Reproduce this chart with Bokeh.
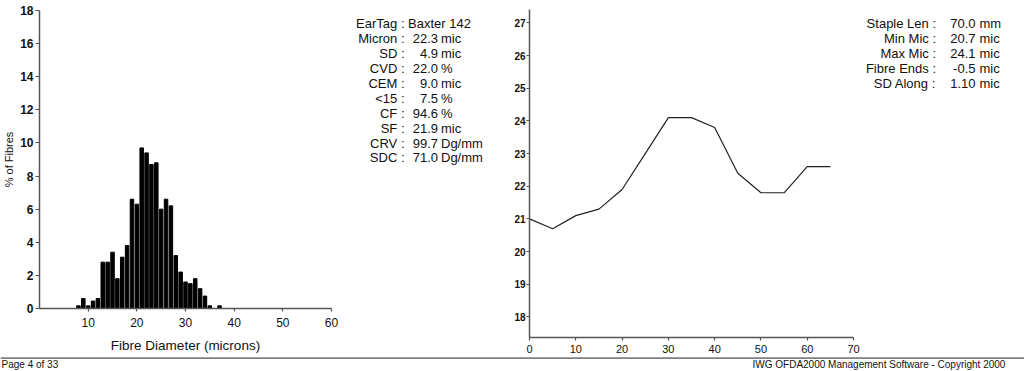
from bokeh.plotting import figure
from bokeh.models import Range1d, FixedTicker, Span
from bokeh.layouts import row, column
from bokeh.embed import file_html
from bokeh.resources import INLINE
from bokeh.core.properties import value

FONT = "Liberation Sans"

# ---------------- data ----------------
diam_microns = list(range(8, 38))
pct_fibres = [0.16, 0.6, 0.16, 0.45, 0.6, 2.8, 2.8, 3.4, 1.8, 3.1,
              3.8, 6.6, 6.3, 9.7, 9.4, 8.7, 8.8, 6.0, 6.6, 6.2,
              3.2, 2.2, 1.6, 1.5, 1.8, 1.2, 0.75, 0.16, 0.0, 0.16]
hist_xticks = [10, 20, 30, 40, 50, 60]
hist_yticks = [0, 2, 4, 6, 8, 10, 12, 14, 16, 18]

along_pos = [0, 5, 10, 15, 20, 25, 30, 35, 40, 45, 50, 55, 60, 65]
along_mic = [21.0, 20.7, 21.1, 21.3, 21.9, 23.0, 24.1, 24.1, 23.8, 22.4,
             21.8, 21.8, 22.6, 22.6]
prof_xticks = [0, 10, 20, 30, 40, 50, 60, 70]
prof_yticks = [18, 19, 20, 21, 22, 23, 24, 25, 26, 27]

stats_labels = ["EarTag :", "Micron :", "SD :", "CVD :", "CEM :", "<15 :",
                "CF :", "SF :", "CRV :", "SDC :"]
ear_tag = "Baxter 142"
stats_values = ["", "22.3", "4.9", "22.0", "9.0", "7.5", "94.6", "21.9",
                "99.7", "71.0"]
stats_units = ["", "mic", "mic", " %", "mic", " %", " %", "mic", "Dg/mm",
               "Dg/mm"]

staple_labels = ["Staple Len :", "Min Mic :", "Max Mic :", "Fibre Ends :",
                 "SD Along :"]
staple_values = ["70.0", "20.7", "24.1", "-0.5", "1.10"]
staple_units = ["mm", "mic", "mic", "mic", "mic"]

page_label = "Page 4 of 33"
footer_text = "IWG OFDA2000 Management Software - Copyright 2000"

AXIS_COLOR = "#555555"
TEXT_COLOR = "#111111"


def style_axes(p):
    p.xgrid.visible = False
    p.ygrid.visible = False
    p.outline_line_color = None
    for ax in (p.xaxis[0], p.yaxis[0]):
        ax.axis_line_color = AXIS_COLOR
        ax.axis_line_width = 1.5
        ax.major_tick_line_color = AXIS_COLOR
        ax.major_tick_line_width = 1.2
        ax.minor_tick_line_color = None
        ax.major_tick_in = 0
        ax.major_label_text_font = FONT
        ax.major_label_text_color = TEXT_COLOR
        ax.axis_label_text_font = FONT
        ax.axis_label_text_font_style = "normal"
        ax.axis_label_text_color = TEXT_COLOR


def blank(p):
    p.xgrid.visible = False
    p.ygrid.visible = False
    p.outline_line_color = None


# ---------------- histogram ----------------
pA = figure(width=340, height=356, x_range=Range1d(0, 60), y_range=Range1d(0, 18),
            output_backend="svg", toolbar_location=None,
            min_border_left=37, min_border_right=9, min_border_top=10,
            min_border_bottom=48)
pA.vbar(x=diam_microns, top=pct_fibres, width=0.72, color="black")
style_axes(pA)
pA.xaxis.ticker = FixedTicker(ticks=hist_xticks)
pA.yaxis.ticker = FixedTicker(ticks=hist_yticks)
pA.xaxis.bounds = (0, 60)
pA.xaxis.major_tick_out = 3
pA.yaxis.major_tick_out = 4
pA.xaxis.major_label_standoff = 6
pA.yaxis.major_label_standoff = 2
pA.xaxis.major_label_text_font_size = "12px"
pA.yaxis.major_label_text_font_size = "12px"
pA.yaxis.major_label_text_font_style = "bold"
pA.xaxis.axis_label = "Fibre Diameter (microns)"
pA.xaxis.axis_label_text_font_size = "13.5px"
pA.xaxis.axis_label_standoff = 8
pA.yaxis.axis_label = "% of Fibres"
pA.yaxis.axis_label_text_font_size = "11px"
pA.yaxis.axis_label_standoff = 2

# ---------------- stats text block ----------------
pT = figure(width=165, height=356, x_range=Range1d(340, 505), y_range=Range1d(356, 0),
            output_backend="svg", toolbar_location=None, min_border=0,
            x_axis_location=None, y_axis_location=None)
blank(pT)
rows_y = [23.3 + i * 14.9 for i in range(len(stats_labels))]
txt = dict(text_font=value(FONT), text_font_size="13px", text_color=TEXT_COLOR,
           text_baseline="alphabetic")
pT.text(x=[404] * len(stats_labels), y=rows_y, text=stats_labels, text_align="right", **txt)
pT.text(x=[407.5], y=[rows_y[0]], text=[ear_tag], text_align="left", **txt)
pT.text(x=[437.5] * (len(stats_values) - 1), y=rows_y[1:], text=stats_values[1:],
        text_align="right", **txt)
pT.text(x=[440.5] * (len(stats_units) - 1), y=rows_y[1:], text=stats_units[1:],
        text_align="left", **txt)

# ---------------- profile along staple ----------------
pB = figure(width=519, height=356, x_range=Range1d(0, 106.93), y_range=Range1d(17.37, 27.41),
            output_backend="svg", toolbar_location=None,
            min_border_left=24, min_border_right=0, min_border_top=9,
            min_border_bottom=19)
pB.line(along_pos, along_mic, line_color="#222222", line_width=1.2)
style_axes(pB)
pB.xaxis.ticker = FixedTicker(ticks=prof_xticks)
pB.yaxis.ticker = FixedTicker(ticks=prof_yticks)
pB.xaxis.bounds = (0, 70)
pB.xaxis.major_tick_out = 3
pB.yaxis.major_tick_out = 3
pB.xaxis.major_label_standoff = 4
pB.yaxis.major_label_standoff = 1
pB.xaxis.major_label_text_font_size = "11px"
pB.yaxis.major_label_text_font_size = "10px"
pB.yaxis.major_label_text_font_style = "bold"
pB.extra_x_ranges = {"px": Range1d(529, 1024)}
pB.extra_y_ranges = {"py": Range1d(337, 9)}
srows_y = [22.7 + i * 15.0 for i in range(len(staple_labels))]
rk = dict(x_range_name="px", y_range_name="py")
pB.text(x=[935.5] * len(staple_labels), y=srows_y, text=staple_labels, text_align="right", **txt, **rk)
pB.text(x=[975] * len(staple_values), y=srows_y, text=staple_values, text_align="right", **txt, **rk)
pB.text(x=[979] * len(staple_units), y=srows_y, text=staple_units, text_align="left", **txt, **rk)

# ---------------- footer ----------------
pF = figure(width=1024, height=15, x_range=Range1d(0, 1024), y_range=Range1d(371, 356),
            output_backend="svg", toolbar_location=None, min_border=0,
            x_axis_location=None, y_axis_location=None)
blank(pF)
pF.add_layout(Span(location=357.6, dimension="width", line_color="#808080", line_width=1.6))
ftxt = dict(text_font=value(FONT), text_font_size="10px", text_color=TEXT_COLOR,
            text_baseline="middle")
pF.text(x=[1], y=[364.0], text=[page_label], text_align="left", **ftxt)
pF.text(x=[752], y=[364.0], text=[footer_text], text_align="left", **ftxt)

for p in (pA, pT, pB, pF):
    p.frame_align = False

layout = column(row(pA, pT, pB), pF)
open("out.html", "w").write(file_html(layout, INLINE))
